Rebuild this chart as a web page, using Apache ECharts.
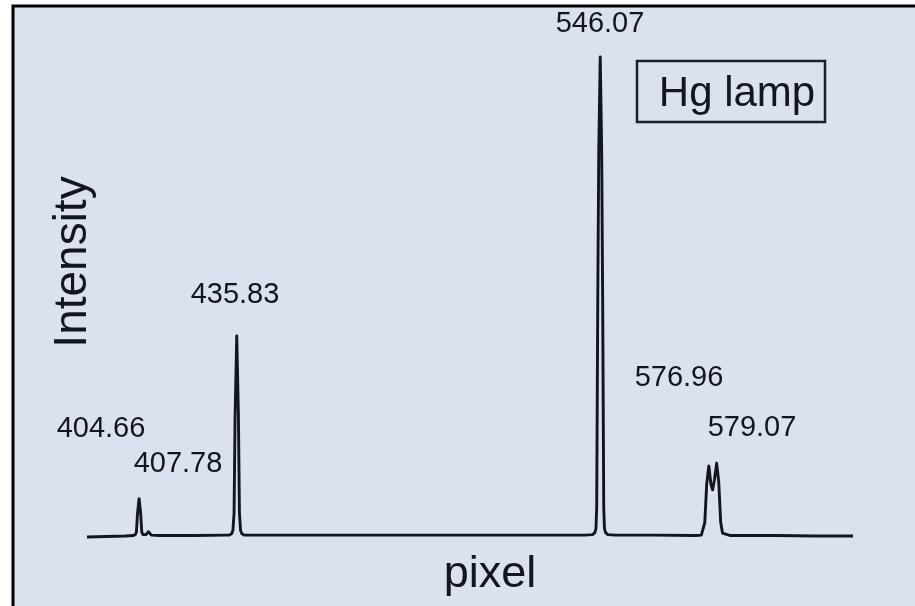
<!DOCTYPE html>
<html>
<head>
<meta charset="utf-8">
<title>Hg lamp spectrum</title>
<script src="https://cdn.jsdelivr.net/npm/echarts@6/dist/echarts.min.js"></script>
<style>
  html, body { margin: 0; padding: 0; background: #ffffff; }
  #chart { width: 915px; height: 606px; }
</style>
</head>
<body>
<div id="chart"></div>
<script>
// Detector pixel (arbitrary units along the array) and recorded intensity
const pixel = [
  0, 25, 50, 60, 63, 64.5, 66, 68, 70, 71.5, 73, 75, 77, 79, 80.2, 81.5, 84, 95,
  140, 180, 186, 189, 190.5, 192, 193.3, 195.5, 197.7, 199, 200.5, 202, 205, 212,
  260, 320, 400, 460, 540, 600, 650, 660, 663, 664.5, 665.4, 666.8, 668.1, 670,
  671.9, 673.2, 674.6, 675.5, 677, 680, 690, 740, 795, 802, 804.3, 806.5, 809,
  811.8, 814.5, 816.7, 819.2, 822, 824.7, 827.3, 829.7, 832, 840, 900, 950, 1000
];
const intensity = [
  0, 1, 2, 3, 5, 10, 50, 80, 50, 10, 5, 4, 5, 9, 11, 7, 4, 3,
  3, 4, 4, 7, 14, 50, 250, 419, 250, 50, 14, 7, 4, 4,
  4, 4, 4, 4, 4, 4, 4, 5, 9, 18, 62, 494, 806, 1000,
  806, 494, 62, 18, 9, 5, 4, 4, 3, 4, 8, 30, 110,
  148, 110, 98, 120, 154, 115, 30, 8, 4, 3, 3, 2, 2
];

// Emission line wavelengths (nm) written over the peaks
const lineLabels = ['404.66', '407.78', '435.83', '546.07', '576.96', '579.07'];

const xTitle = 'pixel';
const yTitle = 'Intensity';
const sourceTitle = 'Hg lamp';

const spectrum = pixel.map((p, i) => [p, intensity[i]]);

const ink = '#13161d';
const font = '"Liberation Sans", Arial, Helvetica, sans-serif';

// where each wavelength label sits (centre x, middle y)
const labelSpots = [
  [101, 429],
  [178, 464],
  [235, 295],
  [600, 24],
  [679, 378],
  [752, 428]
];

const chart = echarts.init(document.getElementById('chart'), null, { renderer: 'canvas' });

const graphics = [
  {
    type: 'rect',
    z: -10,
    silent: true,
    shape: { x: 13, y: 6, width: 1000, height: 1000 },
    style: { fill: '#dbe2ef', stroke: '#000000', lineWidth: 3 }
  },
  {
    type: 'rect',
    shape: { x: 637, y: 61, width: 188, height: 61 },
    style: { fill: 'transparent', stroke: '#1b1f2a', lineWidth: 2.5 }
  },
  {
    type: 'text',
    x: 737, y: 94,
    style: { text: sourceTitle, fontSize: 42, fontFamily: font, fill: ink, align: 'center', verticalAlign: 'middle' }
  },
  {
    type: 'text',
    x: 490, y: 575,
    style: { text: xTitle, fontSize: 45, fontFamily: font, fill: ink, align: 'center', verticalAlign: 'middle' }
  },
  {
    type: 'text',
    x: 73, y: 262,
    rotation: Math.PI / 2,
    style: { text: yTitle, fontSize: 46, fontFamily: font, fill: ink, align: 'center', verticalAlign: 'middle' }
  }
];

lineLabels.forEach((t, i) => {
  graphics.push({
    type: 'text',
    x: labelSpots[i][0], y: labelSpots[i][1],
    style: { text: t, fontSize: 29, fontFamily: font, fill: ink, align: 'center', verticalAlign: 'middle' }
  });
});

chart.setOption({
  animation: false,
  backgroundColor: 'transparent',
  grid: { left: 87, right: 62, top: 57, bottom: 69 },
  xAxis: {
    type: 'value', min: 0, max: 1000,
    axisLine: { show: false }, axisTick: { show: false },
    axisLabel: { show: false }, splitLine: { show: false }
  },
  yAxis: {
    type: 'value', min: 0, max: 1000,
    axisLine: { show: false }, axisTick: { show: false },
    axisLabel: { show: false }, splitLine: { show: false }
  },
  series: [{
    type: 'line',
    data: spectrum,
    clip: false,
    showSymbol: false,
    symbol: 'none',
    smooth: false,
    lineStyle: { color: ink, width: 2.9, join: 'round' }
  }],
  graphic: graphics
});
</script>
</body>
</html>
